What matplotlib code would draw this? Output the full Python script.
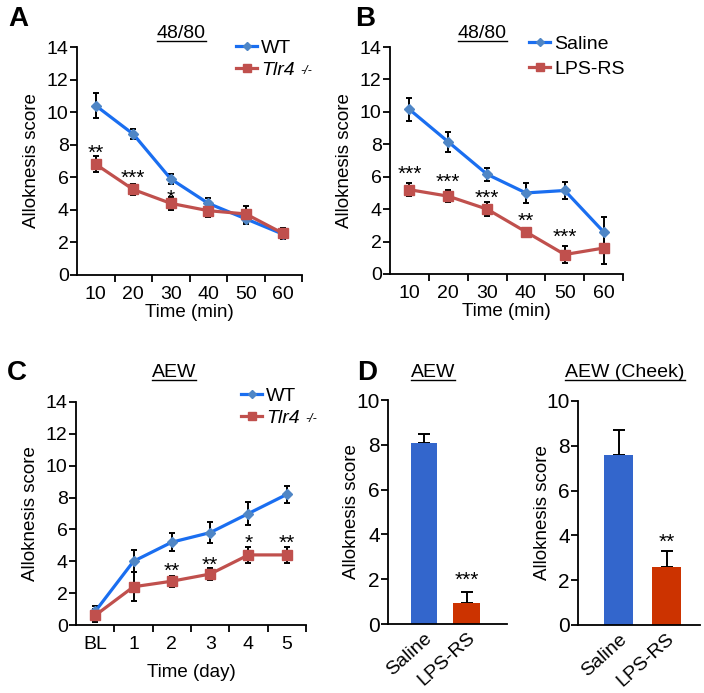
import matplotlib
matplotlib.use("Agg")
import matplotlib.pyplot as plt
import numpy as np
from matplotlib.lines import Line2D

plt.rcParams['font.family'] = ['Liberation Sans', 'DejaVu Sans']
plt.rcParams['axes.linewidth'] = 1.3

# ---------------- data ----------------
time_min = ['10', '20', '30', '40', '50', '60']
a_wt = [10.4, 8.65, 5.9, 4.4, 3.45, 2.5]
a_wt_err = [0.75, 0.3, 0.3, 0.35, 0.3, 0.3]
a_ko = [6.8, 5.25, 4.4, 3.95, 3.75, 2.55]
a_ko_err = [0.5, 0.35, 0.4, 0.4, 0.5, 0.35]
a_stars = ['**', '***', '*', '', '', '']
a_star_y = [7.85, 6.3, 5.05, 0, 0, 0]

b_sal = [10.15, 8.15, 6.15, 5.0, 5.15, 2.6]
b_sal_err = [0.7, 0.6, 0.4, 0.6, 0.5, 0.9]
b_lps = [5.2, 4.8, 4.0, 2.6, 1.2, 1.6]
b_lps_err = [0.4, 0.35, 0.45, 0.15, 0.55, 1.0]
b_stars = ['***', '***', '***', '**', '***', '']
b_star_y = [6.5, 6.0, 5.05, 3.6, 2.65, 0]

time_day = ['BL', '1', '2', '3', '4', '5']
c_wt = [0.85, 4.0, 5.2, 5.8, 7.0, 8.2]
c_wt_err = [0.35, 0.7, 0.55, 0.65, 0.7, 0.55]
c_ko = [0.6, 2.4, 2.75, 3.2, 4.4, 4.4]
c_ko_err = [0.4, 0.9, 0.35, 0.35, 0.5, 0.5]
c_stars = ['', '', '**', '**', '*', '**']
c_star_y = [0, 0, 3.75, 4.15, 5.5, 5.5]

d_groups = ['Saline', 'LPS-RS']
d1_vals = [8.1, 0.95]
d1_err = [0.4, 0.5]
d1_stars = ['', '***']
d1_star_y = [0, 2.2]
d2_vals = [7.6, 2.6]
d2_err = [1.1, 0.7]
d2_stars = ['', '**']
d2_star_y = [0, 3.95]

BLUE = '#1a6ef0'
BLUE_MK = '#4f86c6'
RED = '#c0504d'
BAR_BLUE = '#3366cc'
BAR_RED = '#cc3300'
TFS = 14      # tick labels
LFS = 13.5    # axis labels
SFS = 15      # stars

fig = plt.figure(figsize=(7.04, 6.93), dpi=100)

def add_axes_px(l, r, t, b):
    W, H = 704, 693
    return fig.add_axes([l / W, 1 - b / H, (r - l) / W, (b - t) / H])

def style_line_axes(ax, labels, xlabel):
    n = len(labels)
    x = np.arange(n)
    ax.set_xlim(-0.5, n - 0.5)
    ax.set_ylim(0, 14)
    ax.set_yticks(np.arange(0, 15, 2))
    ax.set_xticks(np.arange(0.5, n, 1.0))
    ax.set_xticklabels([])
    ax.set_xticks(x, labels, minor=True)
    ax.tick_params(axis='x', which='minor', length=0, pad=8, labelsize=TFS)
    ax.tick_params(axis='x', which='major', length=5, width=1.3, direction='out')
    ax.tick_params(axis='y', length=5, width=1.3, direction='out', labelsize=TFS, pad=1)
    ax.spines['top'].set_visible(False)
    ax.spines['right'].set_visible(False)
    ax.set_ylabel('Alloknesis score', fontsize=LFS, labelpad=5)
    ax.set_xlabel(xlabel, fontsize=LFS, labelpad=1)

def draw_series(ax, y, e, color, mcolor, marker, ms, label):
    x = np.arange(len(y))
    ax.errorbar(x, y, yerr=e, fmt='none', ecolor='black', elinewidth=1.4,
                capsize=2.5, capthick=1.4, zorder=2)
    ax.plot(x, y, color=color, lw=2.3, marker=marker, ms=ms, mfc=mcolor,
            mec=mcolor, label=label, zorder=3)

def stars(ax, s, ys):
    for i, (t, yy) in enumerate(zip(s, ys)):
        if t:
            ax.annotate(t, (i, yy), xytext=(0, -0.55 * SFS), textcoords='offset points',
                        ha='center', va='baseline', fontsize=SFS)

def utitle(text, xpx, ypx):
    return fig.text(xpx / 704, 1 - ypx / 693, text, ha='center', va='center', fontsize=14)

def legend(ax, xpx, ypx, spacing=0.25):
    leg = ax.legend(loc='upper left', bbox_to_anchor=(xpx / 704, 1 - ypx / 693),
                    bbox_transform=fig.transFigure, frameon=False, fontsize=14,
                    handlelength=1.1, handletextpad=0.2, labelspacing=spacing,
                    borderpad=0, borderaxespad=0, markerscale=0.85)
    return leg

titles = []
sup_targets = []

# ---------- A ----------
axA = add_axes_px(77, 302, 47, 275)
draw_series(axA, a_wt, a_wt_err, BLUE, BLUE_MK, 'D', 5, 'WT')
draw_series(axA, a_ko, a_ko_err, RED, RED, 's', 7, 'Tlr4')
style_line_axes(axA, time_min, 'Time (min)')
stars(axA, a_stars, a_star_y)
legA = legend(axA, 236, 39)
legA.get_texts()[1].set_fontstyle('italic')
sup_targets.append(legA.get_texts()[1])
titles.append(utitle('48/80', 181, 33))

# ---------- B ----------
axB = add_axes_px(390, 623, 47, 274)
draw_series(axB, b_sal, b_sal_err, BLUE, BLUE_MK, 'D', 5, 'Saline')
draw_series(axB, b_lps, b_lps_err, RED, RED, 's', 7, 'LPS-RS')
style_line_axes(axB, time_min, 'Time (min)')
stars(axB, b_stars, b_star_y)
legend(axB, 529, 35, spacing=0.4)
titles.append(utitle('48/80', 482, 33))

# ---------- C ----------
axC = add_axes_px(76, 306, 402, 625)
draw_series(axC, c_wt, c_wt_err, BLUE, BLUE_MK, 'D', 5, 'WT')
draw_series(axC, c_ko, c_ko_err, RED, RED, 's', 7, 'Tlr4')
style_line_axes(axC, time_day, 'Time (day)')
axC.xaxis.labelpad = 8
stars(axC, c_stars, c_star_y)
legC = legend(axC, 241, 387)
legC.get_texts()[1].set_fontstyle('italic')
sup_targets.append(legC.get_texts()[1])
titles.append(utitle('AEW', 174, 373))

# ---------- D ----------
def bar_axes(ax, vals, errs, st, sty, xlim, lpad):
    x = np.arange(len(vals))
    ax.bar(x, vals, width=0.62, color=[BAR_BLUE, BAR_RED], zorder=2)
    ax.errorbar(x, vals, yerr=[np.zeros(len(errs)), errs], fmt='none', ecolor='black',
                elinewidth=1.4, capsize=4, capthick=1.4, zorder=1)
    ax.set_xlim(*xlim)
    ax.set_ylim(0, 10)
    ax.set_yticks(np.arange(0, 11, 2))
    ax.set_xticks(x, d_groups, rotation=42, ha='right', rotation_mode='anchor')
    ax.tick_params(axis='x', length=0, labelsize=14, pad=4)
    ax.tick_params(axis='y', length=5, width=1.3, direction='out', labelsize=15, pad=1)
    ax.spines['top'].set_visible(False)
    ax.spines['right'].set_visible(False)
    ax.set_ylabel('Alloknesis score', fontsize=LFS, labelpad=lpad)
    for i, (t, yy) in enumerate(zip(st, sty)):
        if t:
            ax.annotate(t, (i, yy), xytext=(0, -0.55 * SFS), textcoords='offset points',
                        ha='center', va='baseline', fontsize=SFS)

axD1 = add_axes_px(388, 507, 400, 624)
bar_axes(axD1, d1_vals, d1_err, d1_stars, d1_star_y, (-0.85, 1.95), -2.5)
titles.append(utitle('AEW', 433, 373))

axD2 = add_axes_px(578, 700, 401, 625)
bar_axes(axD2, d2_vals, d2_err, d2_stars, d2_star_y, (-0.85, 1.7), -3.5)
titles.append(utitle('AEW (Cheek)', 625, 373))

# panel letters
for lab, xp, yp in [('A', 18, 19), ('B', 365, 19), ('C', 17, 373), ('D', 367, 373)]:
    fig.text(xp / 704, 1 - yp / 693, lab, fontsize=20, fontweight='bold', ha='center', va='center')

# underline titles, superscripts
fig.canvas.draw()
r = fig.canvas.get_renderer()
inv = fig.transFigure.inverted()
for t in titles:
    bb = t.get_window_extent(r)
    (x0, y0), (x1, y1) = inv.transform([(bb.x0, bb.y0 + 1), (bb.x1, bb.y0 + 1)])
    fig.add_artist(Line2D([x0, x1], [y0, y0], color='black', lw=1.0, transform=fig.transFigure))
for t in sup_targets:
    bb = t.get_window_extent(r)
    (x1, ytop) = inv.transform((bb.x1 + 5, bb.y1 - 3))
    fig.text(x1, ytop, '-/-', fontsize=9, fontstyle='italic', ha='left', va='top')

fig.savefig('out.png', dpi=100)
